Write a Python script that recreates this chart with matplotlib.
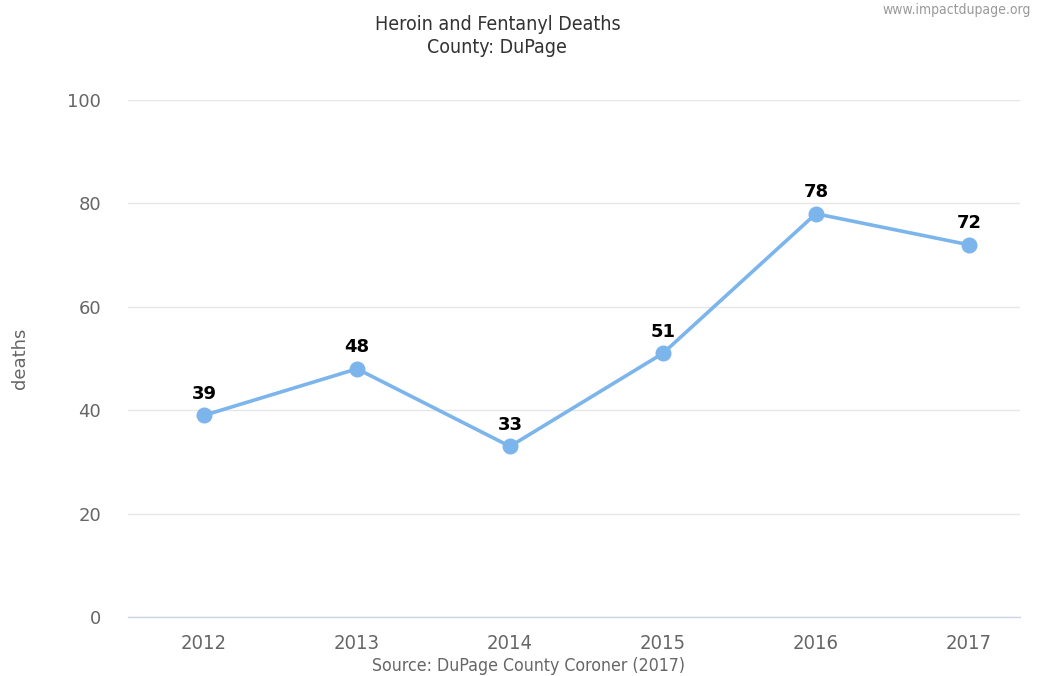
import matplotlib.pyplot as plt

years = ["2012", "2013", "2014", "2015", "2016", "2017"]
deaths = [39, 48, 33, 51, 78, 72]
y_ticks = [0, 20, 40, 60, 80, 100]

fig = plt.figure(figsize=(10.47, 6.76), dpi=100)
ax = fig.add_axes([0.1223, 0.0873, 0.8517, 0.7648])

x = list(range(len(years)))
ax.plot(x, deaths, color="#7cb5ec", linewidth=2.6, marker="o", markersize=10.5, zorder=3)
for xi, v in zip(x, deaths):
    ax.annotate(str(v), (xi, v), xytext=(0, 9), textcoords="offset points",
                ha="center", va="bottom", fontsize=13, fontweight="bold", color="#000000")

ax.set_xlim(-0.497, 5.333)
ax.set_ylim(0, 100)
ax.set_yticks(y_ticks)
ax.set_xticks(x)
ax.set_xticklabels(years, fontsize=14.5, color="#666666", fontstretch="condensed")
ax.tick_params(axis="y", labelsize=13, labelcolor="#666666", length=0, pad=19.5)
ax.tick_params(axis="x", length=0, pad=12)
ax.grid(axis="y", color="#e6e6e6", linewidth=1)
ax.set_axisbelow(True)
for side in ["top", "right", "left"]:
    ax.spines[side].set_visible(False)
ax.spines["bottom"].set_color("#ccd6eb")
ax.spines["bottom"].set_linewidth(1)

fig.text(0.0195, 0.47, "deaths", rotation=90, ha="center", va="center",
         fontsize=13, color="#666666")
fig.text(0.475, 0.964, "Heroin and Fentanyl Deaths", ha="center", va="center",
         fontsize=14, color="#333333", fontstretch="condensed")
fig.text(0.475, 0.929, "County: DuPage", ha="center", va="center",
         fontsize=14, color="#333333", fontstretch="condensed")
fig.text(0.985, 0.985, "www.impactdupage.org", ha="right", va="center",
         fontsize=10, color="#999999", fontstretch="condensed")
fig.text(0.505, 0.015, "Source: DuPage County Coroner (2017)", ha="center", va="center",
         fontsize=12.7, color="#666666", fontstretch="condensed")

fig.savefig("out.png", dpi=100)
